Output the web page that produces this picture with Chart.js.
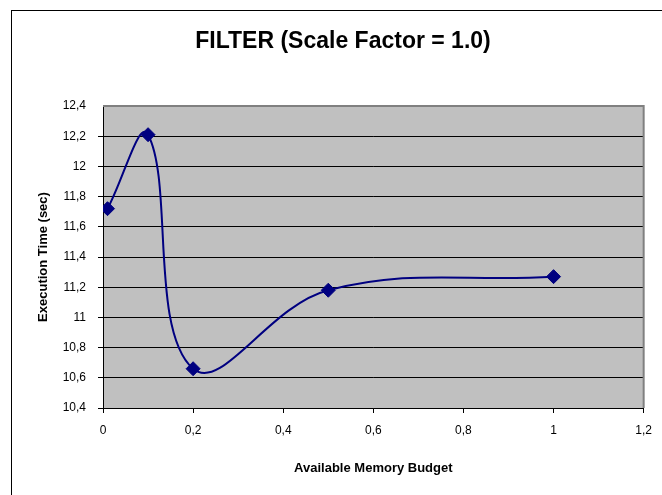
<!DOCTYPE html>
<html>
<head>
<meta charset="utf-8">
<script src="https://cdn.jsdelivr.net/npm/chart.js@4.4.1/dist/chart.umd.min.js"></script>
<style>
  html, body { margin: 0; padding: 0; background: #ffffff; overflow: hidden; }
  #wrap { position: relative; width: 662px; height: 495px; overflow: hidden; }
  #frame { position: absolute; left: 11px; top: 10px; width: 700px; height: 600px; border: 1px solid #000; box-sizing: border-box; }
  canvas { position: absolute; left: 0; top: 0; }
</style>
</head>
<body>
<div id="wrap">
  <div id="frame"></div>
  <canvas id="chart" width="662" height="495"></canvas>
</div>
<script>
// Chart data
const chartTitle = "FILTER (Scale Factor = 1.0)";
const memoryBudget = [0.01, 0.1, 0.2, 0.5, 1.0];
const executionTime = [11.72, 12.21, 10.66, 11.18, 11.27];
const xTicks = [0, 0.2, 0.4, 0.6, 0.8, 1.0, 1.2];
const yTicks = [10.4, 10.6, 10.8, 11.0, 11.2, 11.4, 11.6, 11.8, 12.0, 12.2, 12.4];

const FONT = "'Liberation Sans', Arial, sans-serif";

// Excel-style decimal comma
function fmt(v) {
  return String(Number(v.toFixed(1))).replace(".", ",");
}

// Gray plot area, gray frame on top/right, and the title
const excelLook = {
  id: "excelLook",
  beforeDraw(chart) {
    const { ctx, chartArea: a } = chart;
    ctx.save();
    ctx.fillStyle = "#c0c0c0";
    ctx.fillRect(a.left, a.top, a.right - a.left, a.bottom - a.top);
    ctx.restore();
  },
  afterDraw(chart) {
    const { ctx, chartArea: a } = chart;
    ctx.save();
    ctx.strokeStyle = "#808080";
    ctx.lineWidth = 2;
    ctx.beginPath();
    ctx.moveTo(a.left, a.top);
    ctx.lineTo(a.right, a.top);
    ctx.lineTo(a.right, a.bottom);
    ctx.stroke();

    ctx.fillStyle = "#000";
    ctx.font = "bold 23px " + FONT;
    ctx.textAlign = "center";
    ctx.textBaseline = "alphabetic";
    ctx.fillText(chartTitle, 343, 48);
    ctx.restore();
  }
};

new Chart(document.getElementById("chart"), {
  type: "scatter",
  data: {
    datasets: [{
      data: memoryBudget.map((x, i) => ({ x, y: executionTime[i] })),
      showLine: true,
      tension: 0.4,
      borderColor: "#000080",
      borderWidth: 2,
      pointStyle: "rectRot",
      pointRadius: 7,
      pointHoverRadius: 7,
      pointBackgroundColor: "#000080",
      pointBorderColor: "#000080",
      pointBorderWidth: 1
    }]
  },
  options: {
    responsive: false,
    animation: false,
    events: [],
    layout: { padding: { left: 11, top: 106, right: 18, bottom: 19 } },
    plugins: {
      legend: { display: false },
      tooltip: { enabled: false },
      title: { display: false }
    },
    scales: {
      x: {
        type: "linear",
        min: 0,
        max: 1.2,
        afterBuildTicks: s => { s.ticks = xTicks.map(v => ({ value: v })); },
        afterFit: s => { s.height = 68; },
        border: { color: "#000", width: 1 },
        grid: { drawOnChartArea: false, drawTicks: true, tickLength: 5, color: "#000" },
        ticks: {
          color: "#000",
          font: { family: FONT, size: 12 },
          padding: 10,
          maxRotation: 0,
          callback: v => fmt(v)
        },
        title: {
          display: true,
          text: "Available Memory Budget",
          color: "#000",
          font: { family: FONT, size: 13, weight: "bold" },
          padding: { top: 0, bottom: 0 }
        }
      },
      y: {
        type: "linear",
        min: 10.4,
        max: 12.4,
        afterBuildTicks: s => { s.ticks = yTicks.map(v => ({ value: v })); },
        afterFit: s => { s.width = 92; },
        border: { color: "#000", width: 1 },
        grid: {
          drawTicks: true,
          tickLength: 5,
          color: ctx => (ctx.tick && ctx.tick.value >= 12.4 ? "rgba(0,0,0,0)" : "#000")
        },
        ticks: {
          color: "#000",
          font: { family: FONT, size: 12 },
          padding: 12,
          callback: v => fmt(v)
        },
        title: {
          display: true,
          text: "Execution Time (sec)",
          color: "#000",
          font: { family: FONT, size: 13, weight: "bold" },
          padding: { top: 25, bottom: 0 }
        }
      }
    }
  },
  plugins: [excelLook]
});
</script>
</body>
</html>
